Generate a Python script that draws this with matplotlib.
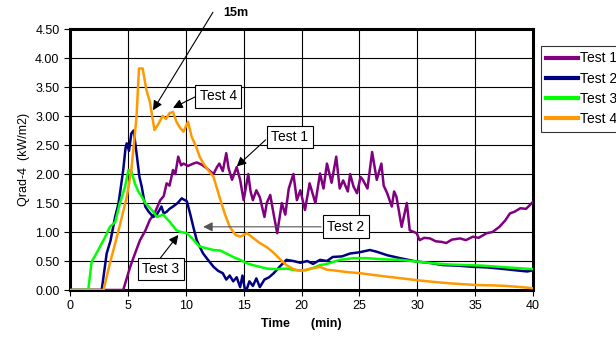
import matplotlib
matplotlib.use("Agg")
import matplotlib.pyplot as plt

plt.rcParams['font.family'] = ['Liberation Sans', 'DejaVu Sans']

# Test 1 (purple)
t1_time = [0, 4.6, 5.2, 5.6, 6.05, 6.5, 6.9, 7.3, 7.8, 8.1, 8.35, 8.6, 8.9, 9.1, 9.35, 9.6, 9.8, 10.2,
           10.65, 10.95, 11.4, 11.8, 12.1, 12.4, 12.7, 12.9, 13.2, 13.5, 13.7, 14.0, 14.4, 14.7, 15.0, 15.4,
           15.6, 15.8, 16.1, 16.4, 16.8, 17.0, 17.3, 17.6, 17.9, 18.3, 18.6, 18.9, 19.3, 19.6, 19.9, 20.3,
           20.7, 21.2, 21.6, 21.9, 22.2, 22.6, 23.0, 23.3, 23.6, 24.0, 24.2, 24.5, 24.8, 25.1, 25.3, 25.7,
           26.1, 26.5, 26.9, 27.1, 27.4, 27.8, 28.0, 28.2, 28.65, 29.1, 29.35, 29.95, 30.2, 30.6, 31.1, 31.6,
           32.1, 32.5, 33.0, 33.7, 34.2, 34.8, 35.3, 36.0, 36.5, 37.1, 37.6, 38.0, 38.4, 38.9, 39.4, 40]
t1_val = [0, 0, 0.40, 0.62, 0.86, 1.02, 1.21, 1.32, 1.55, 1.62, 1.84, 1.80, 2.07, 2.0, 2.3, 2.15, 2.18, 2.14,
          2.18, 2.2, 2.16, 2.1, 2.05, 2.0, 2.12, 2.18, 2.05, 2.36, 2.1, 1.9, 2.12, 1.9, 1.55, 2.0,
          1.7, 1.55, 1.72, 1.6, 1.26, 1.5, 1.64, 1.3, 0.98, 1.5, 1.3, 1.75, 2.0, 1.55, 1.72, 1.38,
          1.84, 1.5, 2.01, 1.75, 2.18, 1.85, 2.3, 1.75, 1.89, 1.7, 2.0, 1.78, 1.67, 1.95, 1.9, 1.75,
          2.38, 1.9, 2.18, 1.8, 1.67, 1.44, 1.7, 1.61, 1.09, 1.5, 1.03, 0.98, 0.86, 0.9, 0.89, 0.84,
          0.83, 0.81, 0.87, 0.89, 0.86, 0.92, 0.9, 0.98, 1.0, 1.09, 1.2, 1.32, 1.35, 1.41, 1.40, 1.52]

# Test 2 (navy)
t2_time = [0, 2.74, 3.17, 3.5, 3.9, 4.2, 4.6, 4.8, 4.9, 5.1, 5.3, 5.5, 5.75, 6.0, 6.2, 6.5, 6.8, 7.2, 7.5,
           7.9, 8.1, 8.35, 8.6, 8.9, 9.3, 9.65, 10.1, 10.4, 10.65, 10.95, 11.2, 11.5, 12.0, 12.4, 12.8, 13.2,
           13.5, 13.8, 14.1, 14.4, 14.7, 14.9, 15.1, 15.3, 15.5, 15.8, 16.1, 16.4, 16.8, 17.2, 17.6, 18.2,
           18.7, 19.3, 19.9, 20.5, 21.0, 21.6, 22.2, 22.7, 23.5, 24.2, 25.0, 25.9, 26.5, 27.4, 28.5, 29.95,
           31.0, 32.2, 33.5, 34.8, 36.0, 37.1, 38.5, 39.5, 40]
t2_val = [0, 0, 0.63, 0.85, 1.26, 1.5, 2.07, 2.45, 2.53, 2.4, 2.7, 2.75, 2.36, 1.95, 1.78, 1.44, 1.35, 1.26, 1.3,
          1.44, 1.32, 1.35, 1.4, 1.44, 1.5, 1.58, 1.53, 1.3, 1.09, 0.86, 0.75, 0.63, 0.5, 0.40, 0.33, 0.29,
          0.18, 0.25, 0.15, 0.22, 0.05, 0.25, 0.02, 0.03, 0.15, 0.07, 0.2, 0.05, 0.18, 0.22, 0.29, 0.42,
          0.52, 0.5, 0.47, 0.5, 0.45, 0.52, 0.5, 0.57, 0.58, 0.63, 0.65, 0.69, 0.66, 0.60, 0.55, 0.49,
          0.47, 0.43, 0.42, 0.40, 0.39, 0.37, 0.34, 0.32, 0.34]

# Test 3 (green)
t3_time = [0, 1.58, 1.87, 2.2, 2.6, 3.0, 3.45, 3.9, 4.3, 4.75, 5.05, 5.3, 5.6, 5.9, 6.2, 6.5, 6.8, 7.2, 7.5,
           8.05, 8.6, 9.2, 9.6, 10.1, 10.6, 11.2, 11.8, 12.4, 13.0, 13.5, 14.1, 14.7, 15.3, 15.8, 16.4, 17.0,
           17.8, 18.7, 19.5, 20.4, 21.0, 21.6, 22.2, 23.3, 24.5, 25.6, 27.0, 28.5, 30.0, 31.4, 32.8, 34.3,
           35.7, 37.1, 38.5, 40]
t3_val = [0, 0, 0.49, 0.6, 0.75, 0.9, 1.09, 1.17, 1.49, 1.78, 2.07, 2.05, 1.84, 1.7, 1.61, 1.5, 1.44, 1.35, 1.26,
          1.3, 1.18, 1.03, 1.0, 0.98, 0.88, 0.75, 0.72, 0.69, 0.68, 0.63, 0.57, 0.52, 0.46, 0.43, 0.4, 0.37,
          0.36, 0.37, 0.34, 0.34, 0.38, 0.43, 0.45, 0.52, 0.55, 0.55, 0.53, 0.52, 0.49, 0.46, 0.44, 0.43,
          0.42, 0.40, 0.38, 0.36]

# Test 4 (orange)
t4_time = [0, 2.9, 3.45, 4.2, 4.9, 5.3, 5.75, 5.96, 6.28, 6.6, 6.9, 7.1, 7.3, 7.6, 8.0, 8.3, 8.6, 8.9, 9.2,
           9.5, 9.8, 10.2, 10.5, 10.9, 11.2, 11.5, 12.0, 12.4, 13.0, 13.4, 13.8, 14.3, 14.7, 15.3, 15.8, 16.4,
           17.0, 17.6, 18.2, 18.7, 19.3, 19.9, 20.6, 21.6, 22.2, 22.7, 23.9, 25.05, 26.2, 27.4, 28.7, 29.95,
           31.4, 32.8, 34.0, 35.1, 36.5, 37.7, 39.0, 40]
t4_val = [0, 0, 0.46, 1.03, 1.6, 2.07, 2.99, 3.82, 3.82, 3.45, 3.25, 3.0, 2.76, 2.85, 3.0, 2.95, 3.05, 3.07, 2.9,
          2.8, 2.73, 2.9, 2.65, 2.47, 2.3, 2.19, 2.05, 1.95, 1.55, 1.3, 1.09, 0.95, 0.92, 0.98, 0.9, 0.81,
          0.74, 0.64, 0.52, 0.43, 0.36, 0.33, 0.36, 0.40, 0.35, 0.34, 0.31, 0.29, 0.26, 0.23, 0.2, 0.17,
          0.14, 0.115, 0.1, 0.086, 0.08, 0.07, 0.05, 0.03]

labels = ["Test 1", "Test 2", "Test 3", "Test 4"]
colors = ["#800080", "#000080", "#00ff00", "#ff9900"]

fig = plt.figure(figsize=(6.16, 3.42), dpi=100)
ax = fig.add_axes([0.1136, 0.152, 0.7517, 0.763])

series = [(t1_time, t1_val), (t2_time, t2_val), (t3_time, t3_val), (t4_time, t4_val)]
for (tt, vv), lab, c in zip(series, labels, colors):
    ax.plot(tt, vv, color=c, lw=1.8, label=lab, zorder=3)

ax.set_xlim(0, 40)
ax.set_ylim(0, 4.5)
ax.set_xticks(range(0, 41, 5))
ax.set_yticks([i * 0.5 for i in range(10)])
ax.set_yticklabels(["%.2f" % (i * 0.5) for i in range(10)])
ax.grid(True, color="black", lw=0.8)
ax.set_axisbelow(True)
for s in ax.spines.values():
    s.set_linewidth(2.2)
ax.tick_params(direction="out", length=4, width=0.8, labelsize=9)
ax.set_xlabel("Time      (min)", fontsize=9, fontweight="bold")
ax.set_ylabel("Qrad-4  (kW/m2)", fontsize=9)

# annotations
arrow = dict(arrowstyle="-|>", color="black", lw=0.8, mutation_scale=14, shrinkA=0, shrinkB=0)
ax.annotate("", xy=(7.17, 3.10), xytext=(12.35, 4.79), arrowprops=arrow, annotation_clip=False)
ax.text(13.2, 4.78, "15m", fontsize=9, fontweight="bold", va="center", ha="left", clip_on=False)

box = dict(boxstyle="square,pad=0.3", fc="white", ec="black", lw=0.8)
ax.annotate("", xy=(8.9, 3.14), xytext=(10.8, 3.33), arrowprops=arrow)
ax.text(12.8, 3.34, "Test 4", fontsize=10, ha="center", va="center", bbox=box, zorder=5)
ax.annotate("", xy=(14.4, 2.13), xytext=(16.9, 2.59), arrowprops=arrow)
ax.text(19.0, 2.64, "Test 1", fontsize=10, ha="center", va="center", bbox=box, zorder=5)
arrow_grey = dict(arrow, color="#555555")
ax.annotate("", xy=(11.5, 1.09), xytext=(21.7, 1.09), arrowprops=arrow_grey)
ax.text(23.85, 1.095, "Test 2", fontsize=10, ha="center", va="center", bbox=box, zorder=5)
ax.annotate("", xy=(9.36, 0.95), xytext=(7.8, 0.55), arrowprops=arrow)
ax.text(7.86, 0.36, "Test 3", fontsize=10, ha="center", va="center", bbox=box, zorder=5)

leg = fig.legend(loc="upper left", bbox_to_anchor=(0.878, 0.866), fontsize=10, frameon=True,
                 fancybox=False, edgecolor="black", handlelength=2.3, labelspacing=0.45,
                 handletextpad=0.15, borderaxespad=0, borderpad=0.4)
leg.get_frame().set_linewidth(0.8)
for l in leg.get_lines():
    l.set_linewidth(3)

fig.savefig("out.png", dpi=100)
